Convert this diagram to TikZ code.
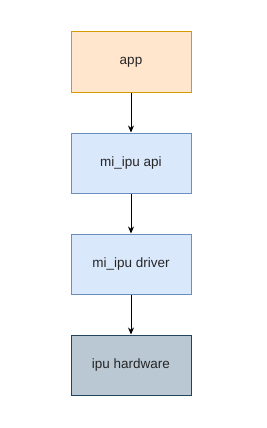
\documentclass[tikz,border=0pt]{standalone}
\usepackage{fontspec}
\setmainfont{Liberation Sans}
\usetikzlibrary{arrows.meta,positioning}
\definecolor{appfill}{HTML}{FFE6CC}
\definecolor{appline}{HTML}{D79B00}
\definecolor{swfill}{HTML}{DAE8FC}
\definecolor{swline}{HTML}{6C8EBF}
\definecolor{hwfill}{HTML}{BAC8D3}
\definecolor{hwline}{HTML}{23445D}

\begin{document}
\begin{tikzpicture}[x=1pt, y=1pt, font=\fontsize{13.5}{16}\selectfont, >={Stealth[length=7pt,width=6pt]},
  node distance=40pt,
  layer/.style={draw, line width=1pt, minimum width=120pt, minimum height=60pt, align=center, text=black!85},
  app/.style={layer, fill=appfill, draw=appline},
  sw/.style={layer, fill=swfill, draw=swline},
  hw/.style={layer, fill=hwfill, draw=hwline}]
\useasboundingbox (0,0) rectangle (266,-428);
\node[app] (app) at (131,-62) {app};
\node[sw, below=of app] (api) {mi\_ipu api};
\node[sw, below=of api] (drv) {mi\_ipu driver};
\node[hw, below=of drv] (hw) {ipu hardware};
\foreach \u/\v in {app/api,api/drv,drv/hw} \draw[->, line width=1pt] (\u) -- (\v);
\end{tikzpicture}
\end{document}
